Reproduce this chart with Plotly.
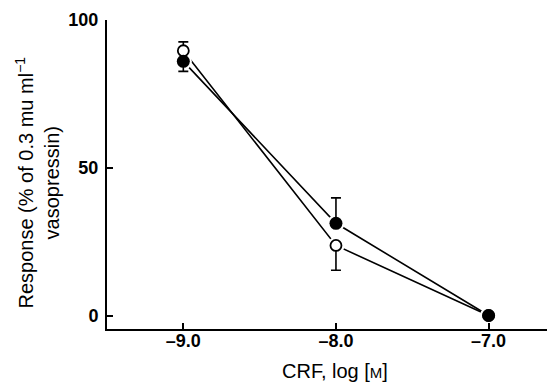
import plotly.graph_objects as go

# Data
x_vals = [-9.0, -8.0, -7.0]
filled_vals = [86.0, 31.2, 0.0]
filled_err_plus = [0.0, 8.6, 0.0]
filled_err_minus = [3.4, 0.0, 0.0]
open_vals = [89.6, 23.7, 0.0]
open_err_plus = [3.0, 0.0, 0.0]
open_err_minus = [0.0, 8.4, 0.0]
tick_vals_x = [-9.0, -8.0, -7.0]
tick_text_x = ["\u20139.0", "\u20138.0", "\u20137.0"]
tick_vals_y = [0, 50, 100]

# page has an 8px body margin; figure is sized to fill the rest of the window
OFF = 8
W, H = 555 - OFF, 383 - OFF
ml, mr, mt, mb = 107 - OFF, 0, 20 - OFF, 383 - 329
pw = W - ml - mr
ph = H - mt - mb

fig = go.Figure()

# lines
fig.add_trace(go.Scatter(x=x_vals, y=open_vals, mode="lines",
                         line=dict(color="black", width=1.6), hoverinfo="skip"))
fig.add_trace(go.Scatter(x=x_vals, y=filled_vals, mode="lines",
                         line=dict(color="black", width=1.6), hoverinfo="skip"))
# white halos (gap between line and marker)
for yv in (open_vals, filled_vals):
    fig.add_trace(go.Scatter(x=x_vals, y=yv, mode="markers",
                             marker=dict(size=17, color="white", line=dict(width=0)),
                             hoverinfo="skip"))
# open markers
fig.add_trace(go.Scatter(
    x=x_vals, y=open_vals, mode="markers",
    marker=dict(size=11, color="white", line=dict(color="black", width=1.8)),
    error_y=dict(type="data", symmetric=False, array=open_err_plus,
                 arrayminus=open_err_minus, color="black", thickness=1.6, width=5),
))
# filled markers
fig.add_trace(go.Scatter(
    x=x_vals, y=filled_vals, mode="markers",
    marker=dict(size=13, color="black", line=dict(width=0)),
    error_y=dict(type="data", symmetric=False, array=filled_err_plus,
                 arrayminus=filled_err_minus, color="black", thickness=1.6, width=5),
))

FAM = "Liberation Sans, Arial, sans-serif"
tickfont = dict(family=FAM, size=18, color="black", weight="bold")

fig.update_layout(
    width=W, height=H,
    margin=dict(l=ml, r=mr, t=mt, b=mb, autoexpand=False),
    paper_bgcolor="white", plot_bgcolor="white",
    showlegend=False,
    xaxis=dict(range=[-9.5, -6.565], tickvals=tick_vals_x, ticktext=tick_text_x,
               ticks="inside", ticklen=6, tickwidth=1.5, tickcolor="black",
               showline=True, linecolor="black", linewidth=2, ticklabelstandoff=-6,
               showgrid=False, zeroline=False, tickfont=tickfont, automargin=False),
    yaxis=dict(range=[-4.57, 100], tickvals=tick_vals_y,
               ticks="inside", ticklen=6, tickwidth=1.5, tickcolor="black",
               showline=True, linecolor="black", linewidth=2, ticklabelstandoff=3,
               showgrid=False, zeroline=False, tickfont=tickfont, automargin=False),
    annotations=[
        dict(text="Response (% of 0.3 mu ml<sup>\u22121</sup><br>vasopressin)",
             xref="paper", yref="paper", x=(37 - 107) / pw, y=0.5 - 8 / ph,
             xanchor="center", yanchor="middle", textangle=-90, showarrow=False,
             font=dict(family=FAM, size=20, color="black")),
        dict(text="CRF, log [<span style='font-size:15px'>M</span>]",
             xref="paper", yref="paper", x=(335 - 107) / pw, y=-(371 - 329) / ph,
             xanchor="center", yanchor="middle", showarrow=False,
             font=dict(family=FAM, size=20, color="black")),
    ],
)

fig.write_html("out.html")
